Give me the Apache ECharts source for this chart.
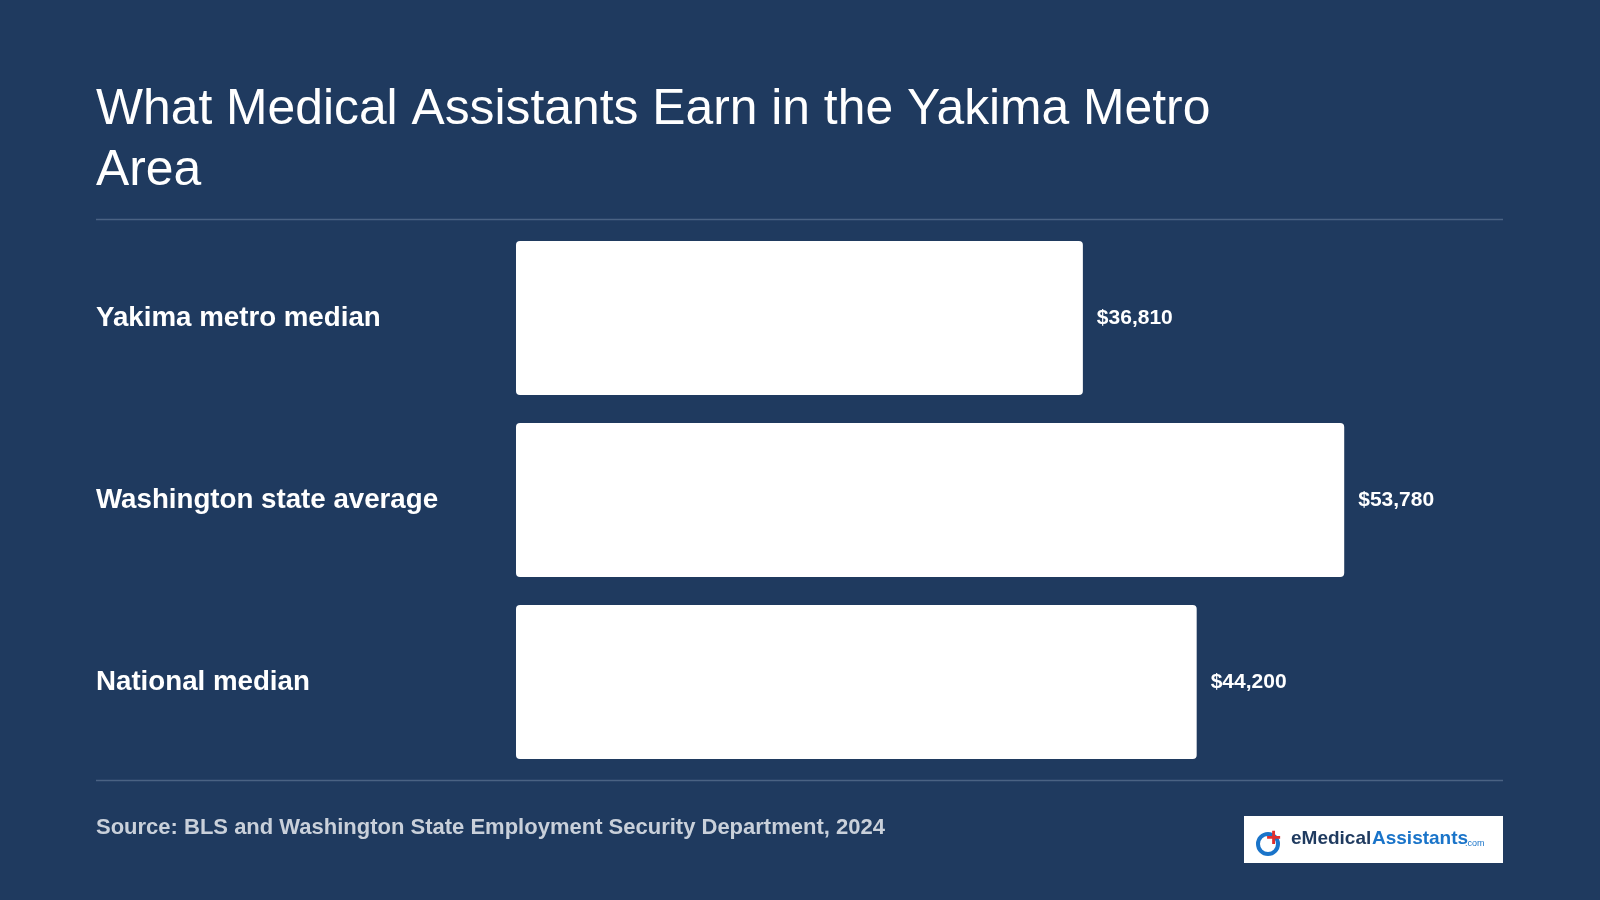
<!DOCTYPE html>
<html><head><meta charset="utf-8">
<script src="https://cdn.jsdelivr.net/npm/echarts@6/dist/echarts.min.js"></script>
<style>html,body{margin:0;padding:0;background:#1f3a5f}#c{width:1600px;height:900px}</style>
</head><body><div id="c"></div>
<script>
const categories = ['Yakima metro median', 'Washington state average', 'National median'];
const values = [36810, 53780, 44200];
const titleText = 'What Medical Assistants Earn in the Yakima Metro\nArea';
const sourceText = 'Source: BLS and Washington State Employment Security Department, 2024';

const chart = echarts.init(document.getElementById('c'));
chart.setOption({
  backgroundColor: '#1f3a5f',
  title: { text: titleText, left: 91, top: 75,
    textStyle: { color: '#fff', fontSize: 49.8, fontWeight: 'normal', fontFamily: 'Liberation Sans, Arial', lineHeight: 61 } },
  grid: { left: 516, top: 227, width: 924, height: 546 },
  xAxis: { type: 'value', min: 0, max: 60000, show: false },
  yAxis: { type: 'category', data: categories, inverse: true,
    axisLine: { show: false }, axisTick: { show: false },
    axisLabel: { align: 'left', margin: 420, color: '#fff', fontSize: 27.7, fontWeight: 'bold', fontFamily: 'Liberation Sans, Arial', padding: [5, 0, 0, 0] } },
  series: [{ type: 'bar', data: values, barCategoryGap: '15.5%',
    itemStyle: { color: '#fff', borderRadius: 4 },
    label: { show: true, position: 'right', distance: 14, color: '#fff', fontSize: 21, fontWeight: 'bold', fontFamily: 'Liberation Sans, Arial', padding: [3, 0, 0, 0],
      formatter: p => '$' + p.value.toLocaleString('en-US') } }],
  graphic: [
    { type: 'line', shape: { x1: 96, y1: 219.5, x2: 1503, y2: 219.5 }, style: { stroke: '#4a6283', lineWidth: 1.5 } },
    { type: 'line', shape: { x1: 96, y1: 780.5, x2: 1503, y2: 780.5 }, style: { stroke: '#4a6283', lineWidth: 1.5 } },
    { type: 'text', left: 96, top: 817, style: { text: sourceText, fill: '#c9d0da', fontSize: 22, fontWeight: 'bold', fontFamily: 'Liberation Sans, Arial' } },
    { type: 'rect', shape: { x: 1244, y: 816, width: 259, height: 47 }, style: { fill: '#fff' } },
    { type: 'circle', shape: { cx: 1268, cy: 844, r: 10 }, style: { fill: 'none', stroke: '#1a74c9', lineWidth: 4 } },
    { type: 'text', x: 1266, y: 826, style: { text: '+', fill: '#e0302e', fontSize: 26, fontWeight: 'bold' } },
    { type: 'text', x: 1291, y: 829, style: { text: 'eMedical', fill: '#1f3a5f', fontSize: 19, fontWeight: 'bold', fontFamily: 'Liberation Sans, Arial', letterSpacing: -0.5 } },
    { type: 'text', x: 1372, y: 829, style: { text: 'Assistants', fill: '#1a74c9', fontSize: 19, fontWeight: 'bold', fontFamily: 'Liberation Sans, Arial', letterSpacing: -0.5 } },
    { type: 'text', x: 1465, y: 839, style: { text: '.com', fill: '#1a74c9', fontSize: 9, fontFamily: 'Liberation Sans, Arial' } }
  ]
});
</script></body></html>
